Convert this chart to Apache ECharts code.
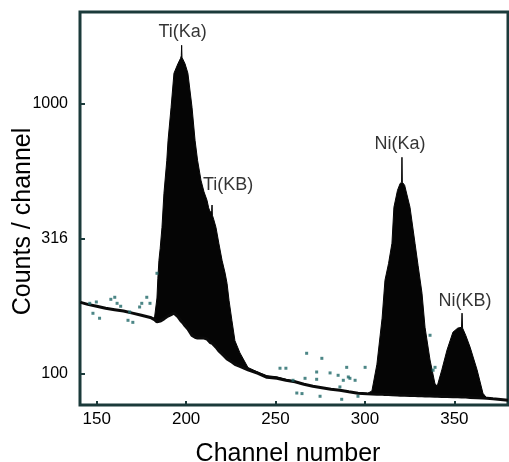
<!DOCTYPE html>
<html>
<head>
<meta charset="utf-8">
<script src="https://cdn.jsdelivr.net/npm/echarts@6/dist/echarts.min.js"></script>
<style>
  html, body { margin: 0; padding: 0; background: #ffffff; }
  #chart { width: 509px; height: 462px; }
</style>
</head>
<body>
<div id="chart"></div>
<script>
// X-ray spectrum: channel number vs counts per channel (log scale)
const channel = [
  141, 145, 150, 155, 160, 165, 170, 175, 180, 182.3,
  183.7, 184.2, 184.8, 185.5, 186.5, 187.6, 189.2, 189.9, 191.6, 193.2,
  195.4, 196.9, 197.3, 197.5, 197.7, 198.1, 199.4, 201.0, 203.3, 205.0,
  206.4, 208.3, 210.0, 211.7, 212.6, 213.5, 214.3, 214.5, 214.7, 215.5,
  216.7, 218.3, 220.1, 221.8, 222.9, 224.0, 225.6, 227.3, 230.1, 234.6,
  240.2, 245.2, 250.8, 255.8, 260.9, 265.9, 270.9, 275.9, 281.0, 286.0,
  291.0, 296.1, 301.1, 303.9, 306.7, 309.6, 311.2, 313.2, 315.1, 316.2,
  318.2, 319.7, 320.5, 320.7, 320.9, 322.2, 325.2, 328.0, 329.7, 331.9,
  333.6, 336.4, 339.1, 340.4, 343.0, 345.9, 349.2, 351.9, 354.0, 354.3,
  354.6, 356.4, 358.8, 362.7, 366.0, 368.2, 371.6, 380
];
// top of the measured counts in each channel
const upperCounts = [
  183, 180, 177, 174, 172, 170, 167, 164, 161, 160,
  190, 225, 262, 290, 347, 464, 615, 729, 966, 1292,
  1400, 1468, 1500, 1640, 1480, 1460, 1400, 1292, 966, 729,
  615, 519, 470, 437, 410, 395, 400, 420, 385, 370,
  347, 303, 262, 235, 215, 186, 157, 132, 119, 105,
  101, 98, 97, 95, 93.5, 91.1, 89.5, 88.4, 87.2, 86.5,
  85.4, 84.3, 84, 86, 108, 160, 221, 255, 303, 412,
  476, 505, 510, 631, 510, 497, 412, 303, 251, 198,
  148, 112, 91.8, 89.5, 103, 122, 142, 147, 148, 167,
  147, 138, 125, 103, 84.3, 80.8, 80.4, 79.5
];
// continuum (background) beneath the peaks
const lowerCounts = [
  183, 180, 177, 174, 172, 170, 167, 164, 161, 158,
  155, 155, 155, 156, 157, 159, 162, 163, 165, 167,
  162, 157, 156, 156, 155, 154, 150, 146, 138, 136,
  135, 135, 135, 134, 132, 130, 129, 129, 129, 127,
  125, 121, 118, 115, 113, 112, 110, 108, 106, 103,
  100, 96.6, 95.8, 94.2, 93, 91.1, 89.5, 88.4, 87.2, 86.5,
  85.4, 84.3, 83.9, 83.8, 83.7, 83.6, 83.5, 83.4, 83.3, 83.2,
  83.1, 83.0, 83.0, 83.0, 83.0, 82.9, 82.8, 82.7, 82.6, 82.5,
  82.4, 82.3, 82.2, 82.2, 82.1, 82.0, 81.9, 81.8, 81.7, 81.7,
  81.7, 81.6, 81.4, 81.2, 81.0, 80.8, 80.4, 79.5
];
// isolated counts scattered around the continuum
const strayChannel = [
  146.1, 149.8, 147.9, 151.6, 157.9, 160.1, 161.4, 163.4, 167.5, 170.2,
  168.4, 174.0, 175.2, 178.0, 179.8, 183.7, 267.4, 275.9, 252.5, 255.8,
  266.5, 273.0, 273.0, 280.5, 285.0, 289.8, 290.7, 294.5, 287.9, 286.0,
  261.9, 264.8, 274.9, 287.0, 296.1, 259.8, 300.1, 291.6, 336.4, 338.1,
  339.2
];
const strayCounts = [
  181.6, 183.7, 166.8, 159.9, 187.9, 191.2, 181.6, 177.1, 157.1, 154.4,
  168.7, 176.0, 181.6, 191.2, 181.6, 234.6, 118.6, 113.6, 104.4, 104.4,
  95.8, 95.0, 101.1, 100.3, 98.3, 105.2, 96.9, 94.2, 94.2, 89.0,
  84.5, 84.1, 82.2, 80.1, 82.2, 94.2, 105.2, 95.8, 138.3, 102.6,
  105.2
];
const peakNames = ['Ti(Ka)', 'Ti(KB)', 'Ni(Ka)', 'Ni(KB)'];
const peakChannel = [197.5, 214.5, 320.7, 354.3];
const xTicks = [150, 200, 250, 300, 350];
const yTicks = [100, 316, 1000];

const frameColor = '#1b3a3a';
const textColor = '#000000';
const font = 'Liberation Sans, Arial, sans-serif';

// label placement relative to each peak top
const peakOffsets = [[1, -13], [16, -20], [-2, -13], [3, -12]];

const chart = echarts.init(document.getElementById('chart'), null, { renderer: 'canvas' });

const spectrumPolygon = function (params, api) {
  if (params.dataIndex !== 0) return null;
  const pts = [];
  for (let i = 0; i < channel.length; i++) pts.push(api.coord([channel[i], upperCounts[i]]));
  for (let i = channel.length - 1; i >= 0; i--) pts.push(api.coord([channel[i], lowerCounts[i]]));
  return {
    type: 'polygon',
    shape: { points: pts },
    style: { fill: '#050505', stroke: '#050505', lineWidth: 1 }
  };
};

chart.setOption({
  animation: false,
  backgroundColor: '#ffffff',
  grid: {
    left: 80, top: 12, right: 1, bottom: 57,
    containLabel: false,
    outerBoundsMode: 'none',
    show: true, borderColor: frameColor, borderWidth: 3, backgroundColor: 'transparent'
  },
  xAxis: {
    type: 'value',
    min: 140.66, max: 380,
    name: 'Channel number',
    nameLocation: 'middle',
    nameGap: 37,
    nameTextStyle: { fontFamily: font, fontSize: 25, color: textColor, padding: [0, 12, 0, 0] },
    axisLine: { show: false },
    splitLine: { show: false },
    axisTick: { show: true, inside: true, length: 4, customValues: xTicks,
      lineStyle: { color: frameColor, width: 2 } },
    axisLabel: { customValues: xTicks, margin: 6, fontFamily: font, fontSize: 17, color: textColor }
  },
  yAxis: {
    type: 'log',
    logBase: 10,
    min: 76.3, max: 2178,
    name: 'Counts / channel',
    nameLocation: 'middle',
    nameGap: 44,
    nameMoveOverlap: false,
    nameTextStyle: { fontFamily: font, fontSize: 25, color: textColor, padding: [0, 26, 0, 0] },
    axisLine: { show: false },
    splitLine: { show: false },
    minorTick: { show: false },
    axisTick: { show: true, inside: true, length: 5, customValues: yTicks,
      lineStyle: { color: frameColor, width: 2 } },
    axisLabel: { customValues: yTicks, margin: 12, fontFamily: font, fontSize: 16, color: textColor,
      formatter: function (v) { return String(Math.round(v)); } }
  },
  series: [
    {
      type: 'custom',
      name: 'spectrum',
      coordinateSystem: 'cartesian2d',
      renderItem: spectrumPolygon,
      data: channel.map(function (c, i) { return [c, upperCounts[i], lowerCounts[i]]; }),
      encode: { x: 0, y: [1, 2] },
      clip: true,
      z: 2
    },
    {
      type: 'line',
      name: 'continuum',
      data: channel.map(function (c, i) { return [c, lowerCounts[i]]; }),
      symbol: 'none',
      lineStyle: { color: '#0a0a0a', width: 3 },
      z: 3
    },
    {
      type: 'scatter',
      name: 'stray',
      data: strayChannel.map(function (c, i) { return [c, strayCounts[i]]; }),
      symbol: 'rect',
      symbolSize: 3,
      itemStyle: { color: '#1f6868' },
      z: 4
    },
    {
      type: 'scatter',
      name: 'peaks',
      data: peakChannel.map(function (c, i) {
        return {
          value: [c, upperCounts[channel.indexOf(c)]],
          label: { offset: peakOffsets[i] }
        };
      }),
      symbolSize: 0,
      label: {
        show: true,
        position: 'inside',
        fontFamily: font,
        fontSize: 18,
        color: textColor,
        textBorderWidth: 0,
        formatter: function (p) { return peakNames[p.dataIndex]; }
      },
      z: 5
    }
  ]
});
</script>
</body>
</html>
